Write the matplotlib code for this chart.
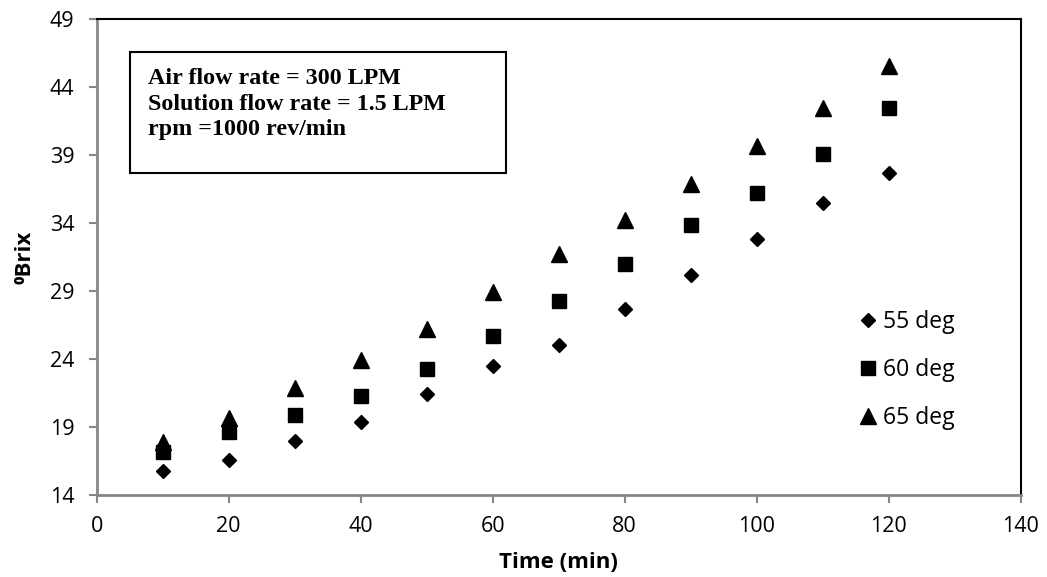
import matplotlib
matplotlib.use("Agg")
import matplotlib.pyplot as plt
from matplotlib.patches import Rectangle

# data
time_min = [10, 20, 30, 40, 50, 60, 70, 80, 90, 100, 110, 120]
brix_55 = [15.8, 16.6, 18.0, 19.4, 21.4, 23.5, 25.0, 27.7, 30.2, 32.8, 35.5, 37.7]
brix_60 = [17.2, 18.6, 19.9, 21.3, 23.3, 25.7, 28.3, 31.0, 33.9, 36.2, 39.1, 42.5]
brix_65 = [17.9, 19.7, 21.9, 23.9, 26.2, 28.9, 31.7, 34.2, 36.9, 39.7, 42.5, 45.6]
series_labels = ['55 deg', '60 deg', '65 deg']
note_lines = ['Air flow rate = 300 LPM',
              'Solution flow rate = 1.5 LPM',
              'rpm =1000 rev/min']
x_ticks = list(range(0, 141, 20))
y_ticks = list(range(14, 50, 5))

plt.rcParams['font.family'] = ['Open Sans', 'DejaVu Sans']

W, H = 1047, 577
fig = plt.figure(figsize=(W / 100, H / 100), dpi=100)
ax = fig.add_axes([96.7 / W, 1 - 495 / H, (1020.7 - 96.7) / W, (495 - 19.3) / H])

ax.plot(time_min, brix_55, linestyle='none', marker='D', ms=7.5, color='black', label=series_labels[0])
ax.plot(time_min, brix_60, linestyle='none', marker='s', ms=10.5, color='black', label=series_labels[1])
ax.plot(time_min, brix_65, linestyle='none', marker='^', ms=11, color='black', label=series_labels[2])

ax.set_xlim(0, 140)
ax.set_ylim(14, 49)
ax.set_xticks(x_ticks)
ax.set_yticks(y_ticks)
ax.tick_params(axis='both', direction='out', length=6, width=1.5, color='#868686',
               labelsize=15.5, colors='black')
ax.tick_params(axis='y', pad=10)
ax.tick_params(axis='x', pad=9)
for s in ['left', 'bottom']:
    ax.spines[s].set_color('#868686')
    ax.spines[s].set_linewidth(2)
for s in ['top', 'right']:
    ax.spines[s].set_color('black')
    ax.spines[s].set_linewidth(1.5)

ax.set_xlabel('Time (min)', fontsize=16, fontweight='bold', labelpad=11)
ax.set_ylabel('⁰Brix', fontsize=16, fontweight='bold', labelpad=10)

ax.legend(loc='center left', bbox_to_anchor=(859 / W, 1 - 370 / H), bbox_transform=fig.transFigure,
          frameon=False, fontsize=16.5, handlelength=0.8, handletextpad=0.26, labelspacing=1.05,
          borderaxespad=0, borderpad=0)

# note box
fig.patches.append(Rectangle((130 / W, 1 - 173 / H), 376 / W, 121 / H, transform=fig.transFigure,
                             fill=False, edgecolor='black', linewidth=1.5))
for line, yb in zip(note_lines, [84.3, 110, 135]):
    fig.text(148 / W, 1 - yb / H, line, fontsize=17.3, fontweight='bold',
             family=['Liberation Serif', 'DejaVu Serif'], va='baseline', ha='left')

fig.savefig('out.png', dpi=100)
